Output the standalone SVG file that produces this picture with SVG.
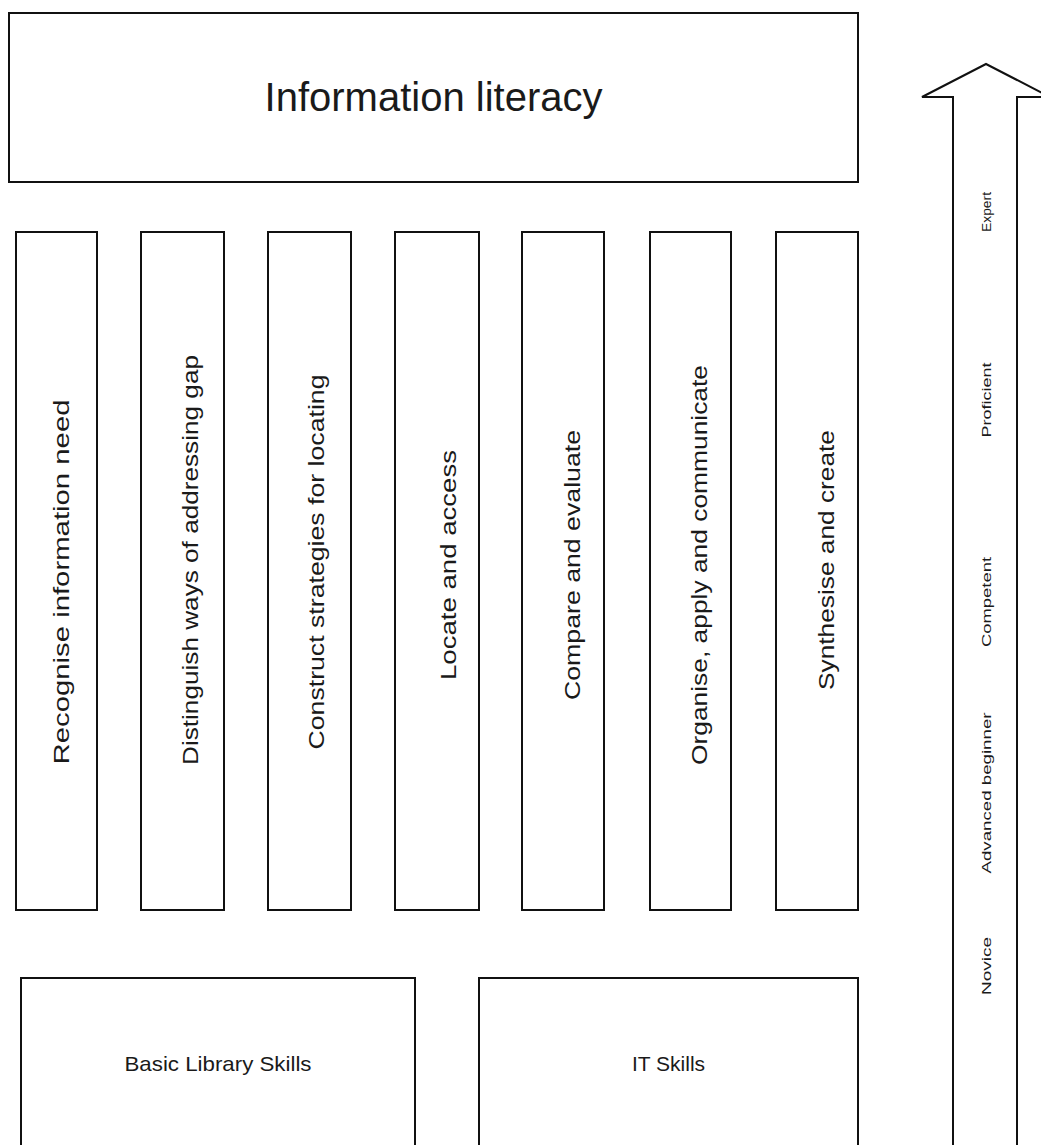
<svg xmlns="http://www.w3.org/2000/svg" width="1041" height="1145" viewBox="0 0 1041 1145">
<style>
.box{fill:#fff;stroke:#111;stroke-width:2}
.t{font-family:"Liberation Sans",Arial,sans-serif;fill:#1a1a1a;text-anchor:middle}
.title{font-size:40px}
.col{font-size:22px}
.base{font-size:21px}
.lvl{font-size:13px}
</style>
<rect x="0" y="0" width="1041" height="1145" fill="#fff"/>
<g id="information-literacy">
<rect class="box" x="9" y="13" width="849" height="169"/>
<text class="t title" x="433.5" y="111">Information literacy</text>
</g>
<g id="recognise">
<rect class="box" x="16" y="232" width="81" height="678"/>
<text class="t col" transform="translate(69,582) rotate(-90)" textLength="365" lengthAdjust="spacingAndGlyphs">Recognise information need</text>
</g>
<g id="distinguish">
<rect class="box" x="141" y="232" width="83" height="678"/>
<text class="t col" transform="translate(198,560) rotate(-90)" textLength="410" lengthAdjust="spacingAndGlyphs">Distinguish ways of addressing gap</text>
</g>
<g id="construct">
<rect class="box" x="268" y="232" width="83" height="678"/>
<text class="t col" transform="translate(324,562) rotate(-90)" textLength="375" lengthAdjust="spacingAndGlyphs">Construct strategies for locating</text>
</g>
<g id="locate">
<rect class="box" x="395" y="232" width="84" height="678"/>
<text class="t col" transform="translate(456,565) rotate(-90)" textLength="230" lengthAdjust="spacingAndGlyphs">Locate and access</text>
</g>
<g id="compare">
<rect class="box" x="522" y="232" width="82" height="678"/>
<text class="t col" transform="translate(580,565) rotate(-90)" textLength="270" lengthAdjust="spacingAndGlyphs">Compare and evaluate</text>
</g>
<g id="organise">
<rect class="box" x="650" y="232" width="81" height="678"/>
<text class="t col" transform="translate(707,565) rotate(-90)" textLength="400" lengthAdjust="spacingAndGlyphs">Organise, apply and communicate</text>
</g>
<g id="synthesise">
<rect class="box" x="776" y="232" width="82" height="678"/>
<text class="t col" transform="translate(834,560) rotate(-90)" textLength="260" lengthAdjust="spacingAndGlyphs">Synthesise and create</text>
</g>
<g id="basic-library-skills">
<rect class="box" x="21" y="978" width="394" height="180"/>
<text class="t base" x="218" y="1071" textLength="187" lengthAdjust="spacingAndGlyphs">Basic Library Skills</text>
</g>
<g id="it-skills">
<rect class="box" x="479" y="978" width="379" height="180"/>
<text class="t base" x="668.5" y="1071">IT Skills</text>
</g>
<g id="progression-arrow">
<polygon class="box" points="953,1160 953,97 922,97 986,64 1050,97 1017,97 1017,1160"/>
<text class="t lvl" transform="translate(991,212) rotate(-90)" textLength="40" lengthAdjust="spacingAndGlyphs">Expert</text>
<text class="t lvl" transform="translate(991,400) rotate(-90)" textLength="75" lengthAdjust="spacingAndGlyphs">Proficient</text>
<text class="t lvl" transform="translate(991,602) rotate(-90)" textLength="90" lengthAdjust="spacingAndGlyphs">Competent</text>
<text class="t lvl" transform="translate(991,793) rotate(-90)" textLength="161" lengthAdjust="spacingAndGlyphs">Advanced beginner</text>
<text class="t lvl" transform="translate(991,966) rotate(-90)" textLength="58" lengthAdjust="spacingAndGlyphs">Novice</text>
</g>
<g id="connectors"></g>
</svg>
